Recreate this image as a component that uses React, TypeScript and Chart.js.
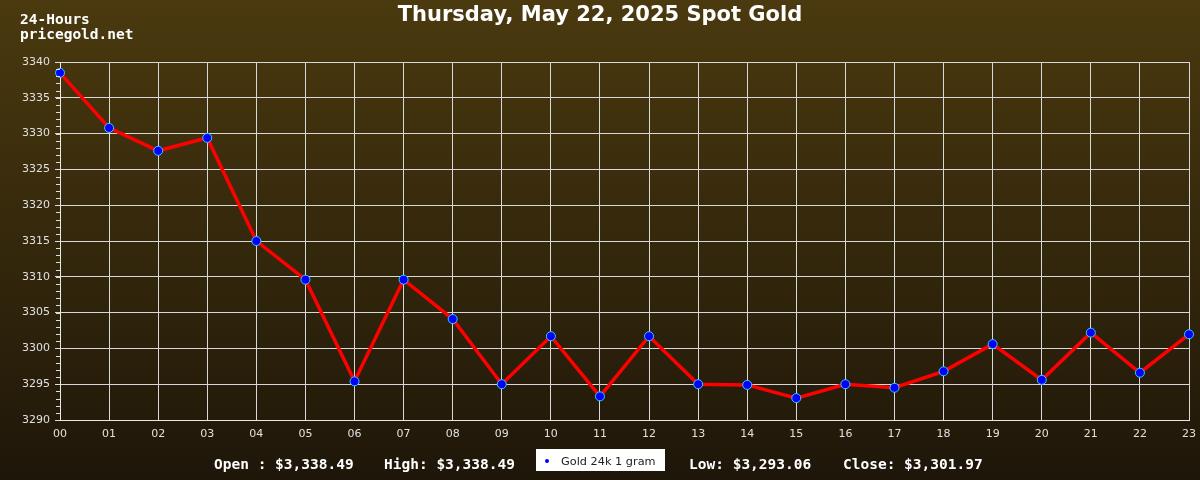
import React, { useEffect, useRef } from "react";
import { Chart, registerables } from "chart.js";

Chart.register(...registerables);

const hours = ["00","01","02","03","04","05","06","07","08","09","10","11","12","13","14","15","16","17","18","19","20","21","22","23"];
const prices = [3338.49,3330.8,3327.6,3329.4,3315.0,3309.6,3295.4,3309.6,3304.1,3295.0,3301.7,3293.3,3301.7,3295.0,3294.9,3293.06,3295.0,3294.5,3296.8,3300.6,3295.6,3302.2,3296.6,3301.97];
const titleText = "Thursday, May 22, 2025 Spot Gold";
const cornerLines = ["24-Hours", "pricegold.net"];
const seriesName = "Gold 24k 1 gram";
const statsLeft = ["Open : $3,338.49", "High: $3,338.49"];
const statsRight = ["Low: $3,293.06", "Close: $3,301.97"];
const yMin = 3290;
const yMax = 3340;
const yStep = 5;

const decorPlugin = {
  id: "decor",
  beforeDraw(chart: any) {
    const { ctx, width, height } = chart;
    ctx.save();
    const g = ctx.createLinearGradient(0, 0, 0, height);
    g.addColorStop(0, "#4b3a0f");
    g.addColorStop(1, "#1e1609");
    ctx.fillStyle = g;
    ctx.fillRect(0, 0, width, height);
    ctx.restore();
  },
  afterDraw(chart: any) {
    const { ctx } = chart;
    const y = chart.scales.y;
    const left = chart.chartArea.left;
    ctx.save();
    ctx.strokeStyle = "#dddddd";
    ctx.lineWidth = 1;
    for (let v = yMin; v <= yMax; v += 1) {
      const py = Math.round(y.getPixelForValue(v)) + 0.5;
      ctx.beginPath();
      ctx.moveTo(left - 4, py);
      ctx.lineTo(left, py);
      ctx.stroke();
    }
    ctx.fillStyle = "#ffffff";
    ctx.font = "bold 21px 'DejaVu Sans'";
    ctx.textAlign = "center";
    ctx.textBaseline = "alphabetic";
    ctx.fillText(titleText, 600, 21);
    ctx.textAlign = "left";
    ctx.font = "bold 14.5px 'DejaVu Sans Mono'";
    ctx.fillText(cornerLines[0], 20, 24);
    ctx.fillText(cornerLines[1], 20, 39);
    ctx.fillText(statsLeft[0], 214, 469);
    ctx.fillText(statsLeft[1], 384, 469);
    ctx.fillText(statsRight[0], 689, 469);
    ctx.fillText(statsRight[1], 843, 469);
    ctx.fillStyle = "#ffffff";
    ctx.fillRect(536, 449, 129, 22);
    ctx.fillStyle = "#0000ff";
    ctx.beginPath();
    ctx.arc(547, 461, 2, 0, Math.PI * 2);
    ctx.fill();
    ctx.fillStyle = "#222222";
    ctx.font = "11.3px 'DejaVu Sans'";
    ctx.fillText(seriesName, 561, 465);
    ctx.restore();
  },
};

export default function App() {
  const ref = useRef<HTMLCanvasElement>(null);
  useEffect(() => {
    if (!ref.current) return;
    const chart = new Chart(ref.current, {
      type: "line",
      data: {
        labels: hours,
        datasets: [
          {
            label: seriesName,
            data: prices,
            borderColor: "#ff0000",
            borderWidth: 3.5,
            pointRadius: 4.5,
            pointBackgroundColor: "#0000ff",
            pointBorderColor: "#33ccff",
            pointBorderWidth: 1,
            tension: 0,
            clip: false as any,
          },
        ],
      },
      options: {
        animation: false,
        responsive: false,
        devicePixelRatio: 1,
        layout: { padding: { top: 62, right: 11, bottom: 0, left: 0 } },
        plugins: { legend: { display: false }, tooltip: { enabled: false } },
        scales: {
          x: {
            type: "category",
            offset: false,
            grid: { color: "#d8d8d8", lineWidth: 1, drawTicks: false },
            border: { color: "#e8e8e8", width: 1 },
            ticks: { color: "#e0e0e0", font: { family: "DejaVu Sans", size: 11 }, padding: 8, maxRotation: 0, autoSkip: false },
            afterFit: (s: any) => { s.height = 60; s.paddingLeft = 0; s.paddingRight = 0; },
          },
          y: {
            min: yMin,
            max: yMax,
            grid: { color: "#d8d8d8", lineWidth: 1, tickLength: 5 },
            border: { color: "#e8e8e8", width: 1 },
            ticks: {
              stepSize: yStep,
              color: "#e0e0e0",
              font: { family: "DejaVu Sans", size: 11 },
              padding: 5,
              callback: (v: any) => String(v),
            },
            afterFit: (s: any) => { s.width = 60; s.paddingTop = 0; s.paddingBottom = 0; },
          },
        },
      },
      plugins: [decorPlugin],
    });
    return () => chart.destroy();
  }, []);
  return (
    <div style={{ position: "fixed", left: 0, top: 0, width: 1200, height: 480 }}>
      <canvas ref={ref} width={1200} height={480} style={{ width: 1200, height: 480, display: "block" }} />
    </div>
  );
}
